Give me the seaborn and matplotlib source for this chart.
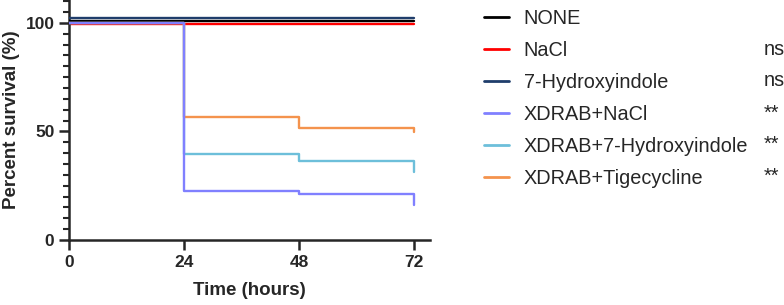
import numpy as np
import pandas as pd
import matplotlib
matplotlib.use("Agg")
import matplotlib.pyplot as plt
import seaborn as sns

# survival data (Kaplan-Meier style steps)
hours = [0, 24, 48, 72]
groups = ["NONE", "NaCl", "7-Hydroxyindole", "XDRAB+NaCl",
          "XDRAB+7-Hydroxyindole", "XDRAB+Tigecycline"]
none_surv = [100, 100, 100, 100]
nacl_surv = [100, 100, 100, 100]
hydroxy_surv = [100, 100, 100, 100]
xdrab_nacl_surv = [100, 22.7, 21.2, 16.1]
xdrab_hydroxy_surv = [100, 39.8, 36.2, 31.4]
xdrab_tige_surv = [100, 56.8, 51.4, 49.8]
signif = ["", "ns", "ns", "**", "**", "**"]

colors = ["#000000", "#FF0000", "#1F3D6B", "#8080FF", "#6DBFDA", "#F4934D"]
nudge = [0.7, -0.4, 2.2, 0, 0, 0]   # small visual offset so the 100% lines don't hide each other
zorders = [3, 2, 4, 6, 5, 5]

rows = []
for g, vals in zip(groups, [none_surv, nacl_surv, hydroxy_surv,
                            xdrab_nacl_surv, xdrab_hydroxy_surv, xdrab_tige_surv]):
    for t, v in zip(hours, vals):
        rows.append({"group": g, "time": t, "survival": v})
df = pd.DataFrame(rows)

sns.set_style("ticks")
plt.rcParams["font.family"] = ["Liberation Sans", "DejaVu Sans"]

fig = plt.figure(figsize=(7.84, 3.05), dpi=100)
ax = fig.add_axes([0.088, 0.213, 0.46, 0.787])

for i, g in enumerate(groups):
    sub = df[df.group == g].copy()
    sub["survival"] = sub["survival"] + nudge[i]
    sns.lineplot(data=sub, x="time", y="survival", ax=ax, color=colors[i],
                 drawstyle="steps-post", linewidth=1.7, label=g,
                 zorder=zorders[i], estimator=None)

ax.set_xlim(0, 75.2)
ax.set_ylim(0, 110.5)
ax.set_xticks([0, 24, 48, 72])
ax.set_yticks([0, 50, 100])
ax.set_yticks(np.arange(0, 111, 5), minor=True)
for s in ["top", "right"]:
    ax.spines[s].set_visible(False)
for s in ["left", "bottom"]:
    ax.spines[s].set_linewidth(1.8)
ax.tick_params(axis="both", which="major", width=1.8, length=7, labelsize=12.5)
ax.tick_params(axis="y", which="minor", width=1.5, length=4)
for lab in ax.get_xticklabels() + ax.get_yticklabels():
    lab.set_fontweight("bold")
ax.set_xlabel("Time (hours)", fontsize=13.5, fontweight="bold", labelpad=9)
ax.set_ylabel("Percent survival (%)", fontsize=13.5, fontweight="bold", labelpad=4)

ax.get_legend().remove()
handles, labels = ax.get_legend_handles_labels()
leg = fig.legend(handles, labels, loc="upper left", bbox_to_anchor=(0.594, 1.029),
                 frameon=False, fontsize=14.3, handlelength=1.3, handletextpad=0.72,
                 labelspacing=0.655)
for line in leg.get_lines():
    line.set_linewidth(2)

row_y = [16.7, 49.3, 81, 113.3, 144.3, 176.7]
for s, y in zip(signif, row_y):
    if s:
        fig.text(764 / 784, 1 - y / 305, s, fontsize=14.3, va="center", ha="left")

fig.savefig("out.png", dpi=100)
